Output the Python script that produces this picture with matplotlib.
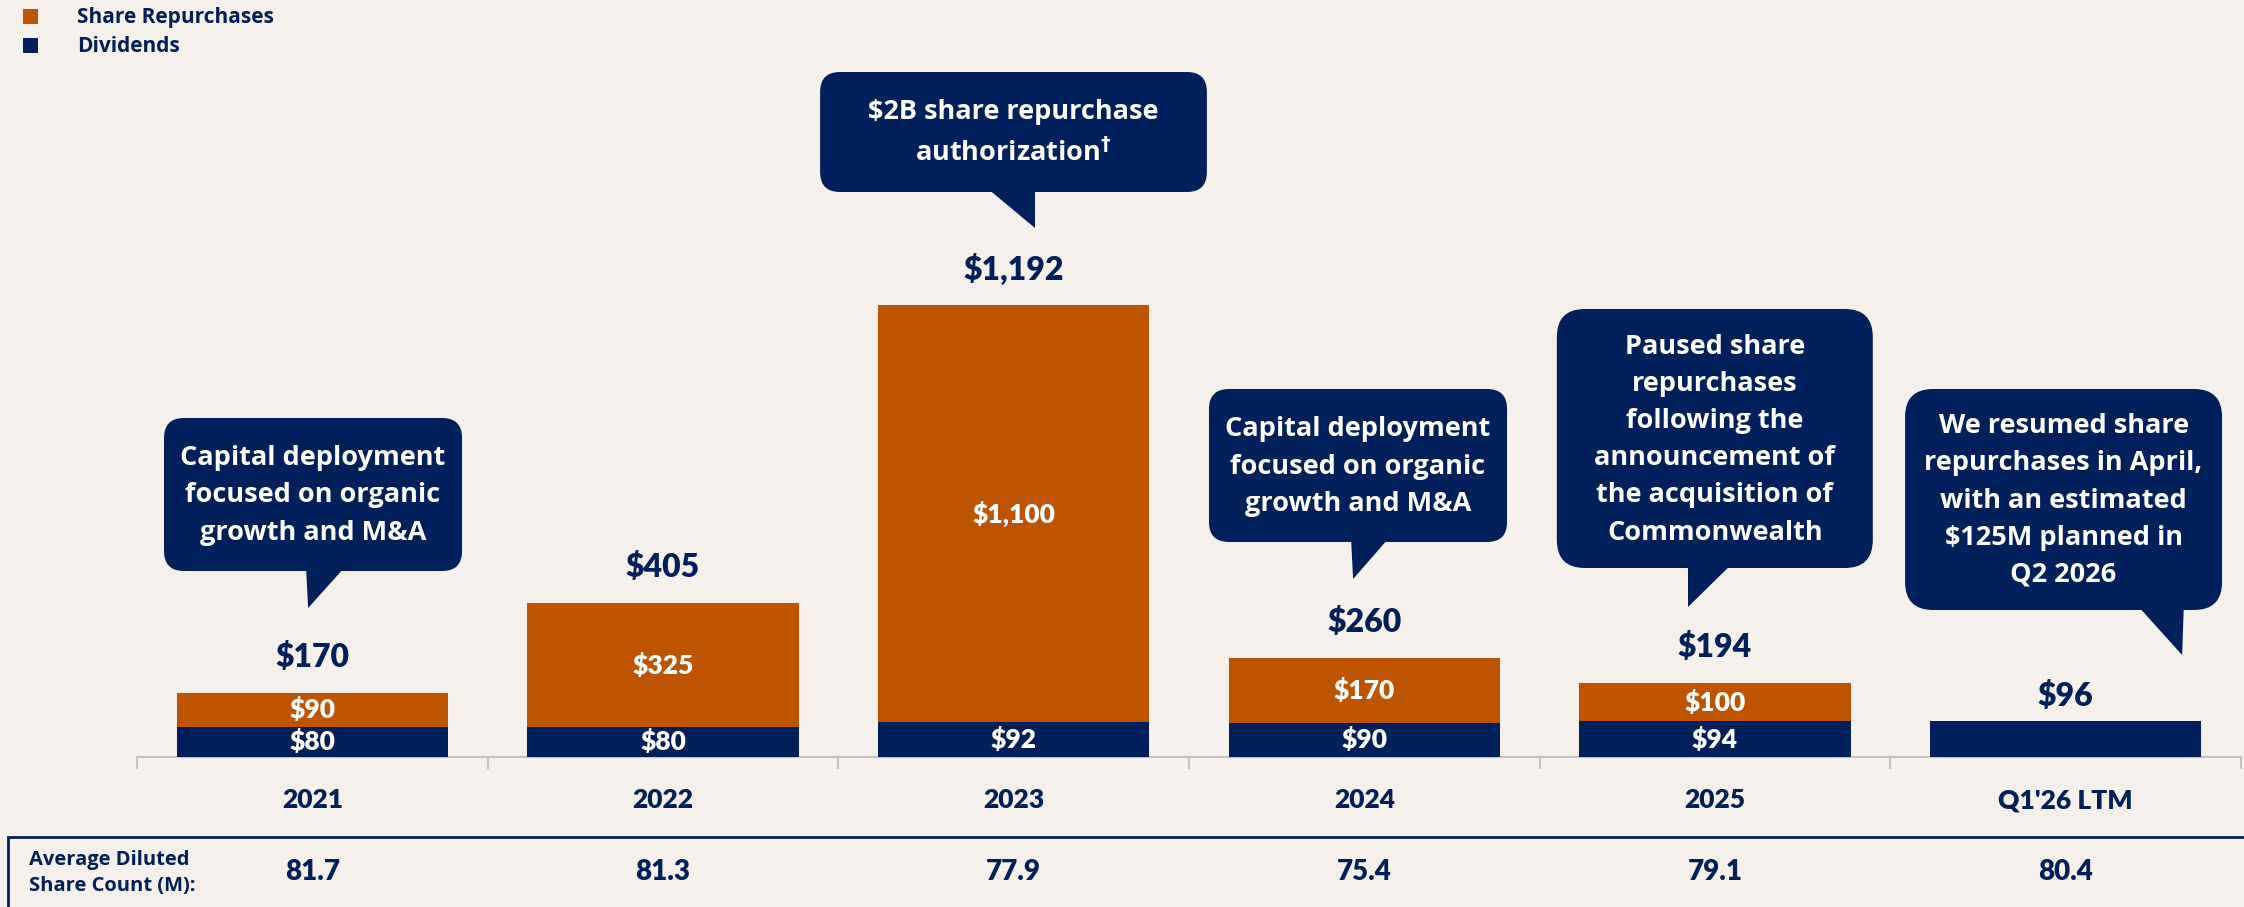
import matplotlib.pyplot as plt
from matplotlib.patches import FancyBboxPatch, Polygon, Rectangle

#======================= data =======================
categories = ['2021', '2022', '2023', '2024', '2025', "Q1'26 LTM"]
dividends = [80, 80, 92, 90, 94, 96]
repurchases = [90, 325, 1100, 170, 100, 0]
totals = [170, 405, 1192, 260, 194, 96]
share_count = [81.7, 81.3, 77.9, 75.4, 79.1, 80.4]

# callout text per category index
callout_text = {
    0: 'Capital deployment\nfocused on organic\ngrowth and M&A',
    2: '$2B share repurchase\nauthorization$^{\\dagger}$',
    3: 'Capital deployment\nfocused on organic\ngrowth and M&A',
    4: 'Paused share\nrepurchases\nfollowing the\nannouncement of\nthe acquisition of\nCommonwealth',
    5: 'We resumed share\nrepurchases in April,\nwith an estimated\n\\$125M planned in\nQ2 2026',
}
#====================================================

NAVY = '#00205B'
ORANGE = '#BE5400'
BG = '#F5F0EC'
GREY = '#C4C4C4'
WORDS = ['Open Sans', 'DejaVu Sans']   # wider face for running text

plt.rcParams['font.family'] = ['Lato', 'DejaVu Sans']
plt.rcParams['font.weight'] = 'bold'

W, H = 2244, 907
fig = plt.figure(figsize=(W / 100, H / 100), dpi=100, facecolor=BG)
ax_left, ax_right = 137, 2241
ax = fig.add_axes([ax_left / W, 0, (ax_right - ax_left) / W, 1])
ax.set_facecolor('none')
ax.set_xlim(-0.5, 5.5)
base_px = 150          # baseline distance from bottom, px
px_per_unit = 0.3792
ax.set_ylim(-base_px / px_per_unit, (H - base_px) / px_per_unit)
ax.axis('off')

def ypx(p):
    # pixel length -> data units on y
    return p / px_per_unit

x = list(range(len(categories)))
bw = 0.773
ax.bar(x, dividends, bw, color=NAVY, zorder=2)
ax.bar(x, repurchases, bw, bottom=dividends, color=ORANGE, zorder=2)

# baseline and ticks
ax.axhline(0, color=GREY, lw=1.5, zorder=1)
for b in range(len(categories) + 1):
    ax.plot([b - 0.5, b - 0.5], [0, -ypx(11)], color=GREY, lw=1.5, clip_on=False)

for i in x:
    if repurchases[i] > 0:
        ax.text(i, dividends[i] / 2, f'${dividends[i]}', ha='center', va='center',
                color='white', fontsize=19, fontweight='heavy', zorder=3)
        ax.text(i, dividends[i] + repurchases[i] / 2, f'${repurchases[i]:,}', ha='center',
                va='center', color='white', fontsize=19, fontweight='heavy', zorder=3)
    gap = 36 if repurchases[i] > 0 else 25
    ax.text(i, totals[i] + ypx(gap), f'${totals[i]:,}', ha='center', va='center',
            color=NAVY, fontsize=23, fontweight='heavy')
    ax.text(i, -ypx(43), categories[i], ha='center', va='center', color=NAVY,
            fontsize=19, fontweight='heavy')
    ax.text(i, -ypx(115), f'{share_count[i]:.1f}', ha='center', va='center', color=NAVY,
            fontsize=20, fontweight='heavy')

# callouts: x0, x1 (offset from category), y bottom/top px above baseline,
# tail left/right offsets, tip (x offset, px above baseline), corner radius px
callout_geom = {
    0: (-0.423, 0.427, 186, 339, -0.018, 0.093, -0.012, 149, 20),
    2: (-0.552, 0.551, 565, 685, -0.076, 0.061, 0.061, 529, 20),
    3: (-0.443, 0.407, 215, 368, -0.038, 0.070, -0.032, 178, 20),
    4: (-0.451, 0.450, 189, 448, -0.077, 0.048, -0.077, 150, 28),
    5: (-0.458, 0.446, 147, 368, 0.206, 0.337, 0.332, 102, 28),
}
px_per_x = (ax_right - ax_left) / 6
aspect = px_per_x / px_per_unit
for i, (x0, x1, yb, yt, tl, tr, tx, ty, r) in callout_geom.items():
    box = FancyBboxPatch((i + x0, ypx(yb)), x1 - x0, ypx(yt - yb),
                         boxstyle=f'round,pad=0,rounding_size={r / px_per_x}',
                         mutation_aspect=aspect, fc=NAVY, ec='none', zorder=4)
    ax.add_patch(box)
    tail = Polygon([(i + tl, ypx(yb + 4)), (i + tr, ypx(yb + 4)), (i + tx, ypx(ty))],
                   closed=True, fc=NAVY, ec='none', zorder=4)
    ax.add_patch(tail)
    ax.text(i + (x0 + x1) / 2, ypx((yb + yt) / 2 - 1), callout_text[i], ha='center',
            va='center', color='white', fontsize=19.5, fontweight='bold',
            family=WORDS, linespacing=1.56, zorder=5)

# legend (top left)
for k, (lab, col) in enumerate([('Share Repurchases', ORANGE), ('Dividends', NAVY)]):
    top = 9 + k * 29
    fig.patches.append(Rectangle((23 / W, 1 - (top + 15) / H), 15 / W, 15 / H,
                                 transform=fig.transFigure, fc=col, ec='none'))
    fig.text(77 / W, 1 - (top + 8) / H, lab, ha='left', va='center', color=NAVY,
             fontsize=15, fontweight='bold', family=WORDS)

# share count table box
fig.patches.append(Rectangle((8 / W, -0.2), 1.2, 0.2 + (H - 837) / H,
                             transform=fig.transFigure, fc='none', ec=NAVY, lw=2))
fig.text(29 / W, 1 - 873 / H, 'Average Diluted\nShare Count (M):', ha='left',
         va='center', color=NAVY, fontsize=14.5, fontweight='bold', family=WORDS,
         linespacing=1.45)

fig.savefig('out.png', dpi=100, facecolor=BG)
